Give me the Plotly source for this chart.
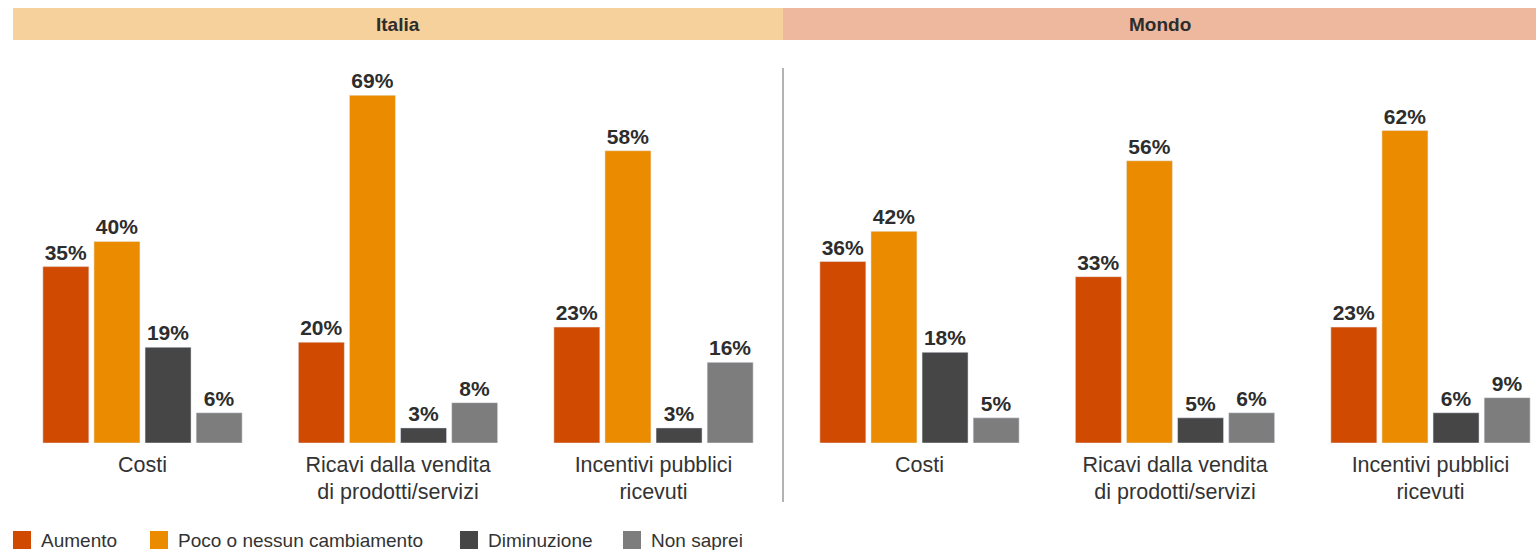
import plotly.graph_objects as go

categories = ["Costi", "Ricavi dalla vendita<br>di prodotti/servizi", "Incentivi pubblici<br>ricevuti"]
series_names = ["Aumento", "Poco o nessun cambiamento", "Diminuzione", "Non saprei"]
colors = ["#D04A02", "#EB8C00", "#464646", "#7D7D7D"]

italia_aumento = [35, 20, 23]
italia_poco = [40, 69, 58]
italia_diminuzione = [19, 3, 3]
italia_non_saprei = [6, 8, 16]

mondo_aumento = [36, 33, 23]
mondo_poco = [42, 56, 62]
mondo_diminuzione = [18, 5, 6]
mondo_non_saprei = [5, 6, 9]

panels = ["Italia", "Mondo"]

W, H = 1536, 550
FONT = "Liberation Sans, Arial, sans-serif"
TXT = "#2D2D2D"

fig = go.Figure()

italia = [italia_aumento, italia_poco, italia_diminuzione, italia_non_saprei]
mondo = [mondo_aumento, mondo_poco, mondo_diminuzione, mondo_non_saprei]

for ax, data in (("", italia), ("2", mondo)):
    for i, name in enumerate(series_names):
        fig.add_trace(go.Bar(
            x=categories, y=data[i], name=name, marker_color=colors[i],
            xaxis="x" + ax, yaxis="y" + ax, showlegend=False,
            texttemplate="%{y}%", textposition="outside", cliponaxis=False,
            constraintext="none",
            textfont=dict(family=FONT, size=21, color=TXT, weight="bold"),
            hoverinfo="skip",
        ))

base_px = 443
top_px = 60
px_per_unit = 5.04
ydom = [(H - base_px) / H, 1 - top_px / H]
yrange = [0, (base_px - top_px) / px_per_unit]

cat_w = 255.5
it_center = 398
mo_center = 1175
it_left = it_center - 1.5 * cat_w
it_right = it_center + 1.5 * cat_w
mo_left = mo_center - 1.5 * cat_w
mo_right = W

axis_common = dict(showgrid=False, zeroline=False, showline=False, ticks="",
                   tickfont=dict(family=FONT, size=21.5, color="#333333"), type="category",
                   fixedrange=True, ticklabelstandoff=6)

fig.update_layout(
    width=W, height=H,
    margin=dict(l=0, r=0, t=0, b=0),
    paper_bgcolor="white", plot_bgcolor="white",
    barmode="group", bargap=0.2, bargroupgap=0.1,
    font=dict(family=FONT, color=TXT),
    xaxis=dict(domain=[it_left / W, it_right / W], range=[-0.5, 2.5], anchor="y", **axis_common),
    xaxis2=dict(domain=[mo_left / W, mo_right / W],
                range=[-0.5, -0.5 + (mo_right - mo_left) / cat_w], anchor="y2", **axis_common),
    yaxis=dict(domain=ydom, range=yrange, visible=False, fixedrange=True),
    yaxis2=dict(domain=ydom, range=yrange, visible=False, fixedrange=True),
    showlegend=False,
)

# header bands
headers = [(panels[0], 13, 783, "#F7D19C"), (panels[1], 783, W, "#EDB89D")]
for label, x0, x1, col in headers:
    fig.add_shape(type="rect", xref="paper", yref="paper",
                  x0=x0 / W, x1=x1 / W, y0=1 - 40 / H, y1=1 - 8 / H,
                  fillcolor=col, line=dict(width=0), layer="below")
    fig.add_annotation(text=f"<b>{label}</b>", xref="paper", yref="paper",
                       x=(x0 + x1) / 2 / W, y=1 - 24 / H, showarrow=False,
                       font=dict(family=FONT, size=19, color=TXT),
                       xanchor="center", yanchor="middle")

# divider
fig.add_shape(type="line", xref="paper", yref="paper",
              x0=783 / W, x1=783 / W, y0=1 - 68 / H, y1=1 - 502 / H,
              line=dict(color="#9A9A9A", width=1.5))

# legend (drawn manually to match the larger square swatches)
legend_x = [13, 150, 460, 623]
sq = 18
legend_cy = 540
for name, col, lx in zip(series_names, colors, legend_x):
    fig.add_shape(type="rect", xref="paper", yref="paper",
                  x0=lx / W, x1=(lx + sq) / W,
                  y0=1 - (legend_cy + sq / 2) / H, y1=1 - (legend_cy - sq / 2) / H,
                  fillcolor=col, line=dict(width=0))
    fig.add_annotation(text=name, xref="paper", yref="paper",
                       x=(lx + sq + 8) / W, y=1 - legend_cy / H, showarrow=False,
                       font=dict(family=FONT, size=19, color="#333333"),
                       xanchor="left", yanchor="middle")

fig.write_html("out.html", config={"displayModeBar": False},
               post_script="document.body.style.margin='0';")
